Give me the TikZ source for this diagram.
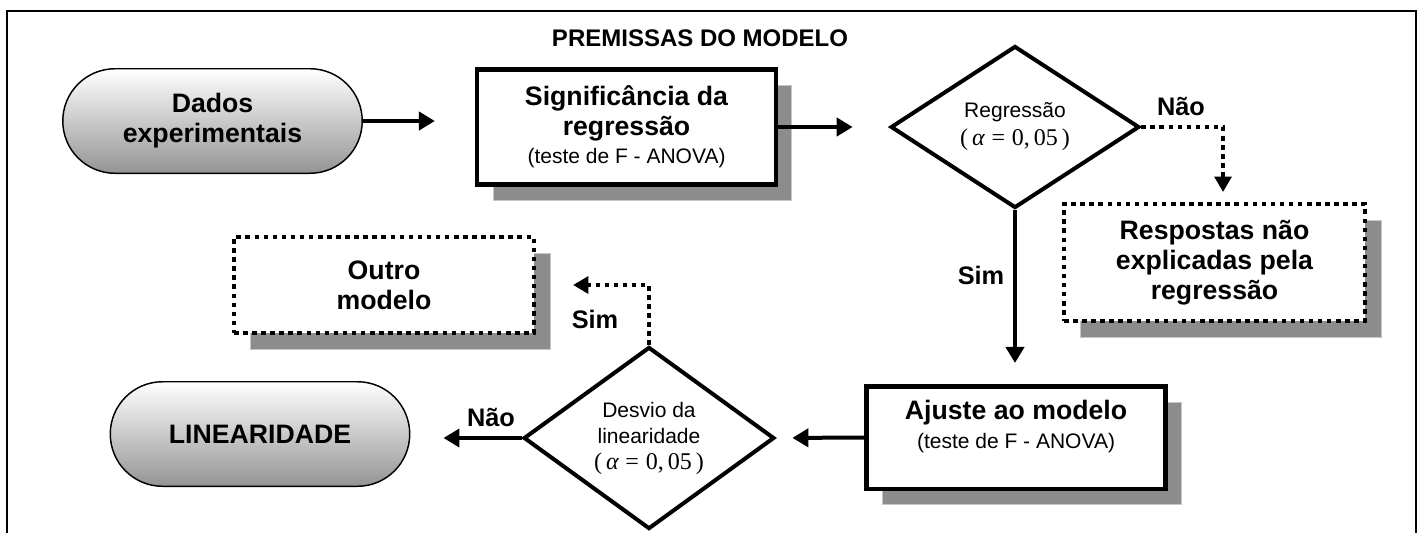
\documentclass[tikz,border=0pt]{standalone}
\usepackage{fontspec}
\setmainfont{Liberation Sans}
\newfontfamily\serifform{Liberation Serif}
\usetikzlibrary{shapes.geometric,arrows.meta,shadows,calc}
\newcommand\alphaform{{\serifform\fontsize{18}{21}\selectfont(\hspace{0.17em}{\itshape α}\hspace{0.28em}=\hspace{0.28em}0,\hspace{0.17em}05\hspace{0.17em})}}
\tikzset{
  frameline/.style={line width=1.5pt},
  boxtext/.style={font=\bfseries\fontsize{20}{22.5}\selectfont, align=center},
  pill/.style={boxtext, rectangle, rounded corners=39.2pt, draw, line width=1.1pt,
    top color=white, bottom color=black!42, minimum width=224.6pt, minimum height=78.4pt, inner sep=0pt},
  myshadow/.style={drop shadow={shadow xshift=12pt, shadow yshift=-12pt, opacity=1,
    fill=black!45, draw=black!22, line width=0.7pt, solid}},
  solidbox/.style={boxtext, rectangle, draw, fill=white, line width=3.4pt, inner sep=0pt, myshadow},
  dotbox/.style={boxtext, rectangle, draw, fill=white, line width=3pt,
    dash pattern=on 3.4pt off 3.4pt, inner sep=0pt, myshadow},
  decision/.style={diamond, draw, line width=3pt, inner sep=0pt, align=center,
    font=\fontsize{15.75}{21}\selectfont},
  arr/.style={line width=3pt, -{Triangle[length=12pt,width=13.5pt]}},
  dotarr/.style={line width=3pt, dash pattern=on 3.4pt off 3.4pt, -{Triangle[length=11.5pt,width=12.5pt]}},
  lbl/.style={font=\bfseries\fontsize{19}{22}\selectfont},
  titlestyle/.style={font=\bfseries\fontsize{18}{21}\selectfont}
}
\begin{document}
\begin{tikzpicture}[x=0.75pt,y=-0.75pt]
\useasboundingbox (0,0) rectangle (1423,533);
\draw[frameline] (7,533) -- (7,11) -- (1416,11) -- (1416,533);

\node[titlestyle] (title) at (700,38) {PREMISSAS DO MODELO};

\node[pill] (dados) at (212.5,121) {Dados\\experimentais};
\node[pill] (lin) at (260,434) {LINEARIDADE};

\node[solidbox, minimum width=224pt, minimum height=86.6pt] (sig) at (626.5,127)
  {Significância da\\regressão\\[-1.5pt]{\mdseries\fontsize{15.75}{21}\selectfont (teste de F - ANOVA)}};
\node[solidbox, minimum width=224.6pt, minimum height=76.9pt] (ajuste) at (1016,437.5)
  {Ajuste ao modelo\\[-0.75pt]{\mdseries\fontsize{15.75}{21}\selectfont (teste de F - ANOVA)}\rule[-20pt]{0pt}{1pt}};
\node[dotbox, minimum width=225.75pt, minimum height=87.75pt] (resp) at (1214.5,262.5)
  {Respostas não\\explicadas pela\\regressão};
\node[dotbox, minimum width=225pt, minimum height=72pt] (outro) at (384,285)
  {Outro\\modelo};

\node[decision, minimum width=186.5pt, minimum height=121.5pt] (reg) at (1015,127)
  {Regressão\\\alphaform};
\node[decision, minimum width=188pt, minimum height=123.8pt,
  font=\fontsize{15.75}{19.5}\selectfont] (desvio) at (649,438)
  {Desvio da\\linearidade\\\alphaform};

\draw[arr, shorten >=30pt] (dados.east) -- (dados.east -| sig.west);
\draw[arr, shorten >=27pt] (sig.east) -- (reg.west);
\draw[dotarr, shorten >=7.5pt] (reg.east) -| ([xshift=6.4pt]resp.north);
\draw[arr, shorten >=15.75pt] (reg.south) -- (reg.south |- ajuste.north);
\draw[arr, shorten >=12pt] (ajuste.west) -- (desvio.east);
\draw[arr, shorten >=24.75pt] (desvio.west) -- (desvio.west -| lin.east);
\draw[dotarr, shorten >=27.75pt] (desvio.north) |- (outro.east);

\node[lbl] (nao1) at (1181,106) {Não};
\node[lbl] (sim1) at (981,275) {Sim};
\node[lbl] (sim2) at (595,319) {Sim};
\node[lbl] (nao2) at (491,417) {Não};
\end{tikzpicture}
\end{document}
